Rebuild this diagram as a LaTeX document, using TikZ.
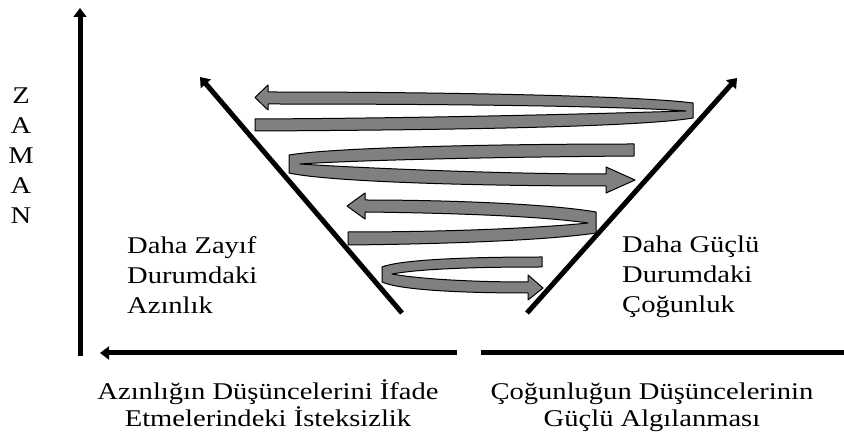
\documentclass[tikz,border=0pt]{standalone}
\usepackage{fontspec}
\setmainfont{Liberation Serif}[FakeStretch=1.19]
\usepackage{tikz}
\usetikzlibrary{arrows.meta}
\definecolor{bandgray}{RGB}{128,128,128}

\begin{document}
\begin{tikzpicture}[
    x=1pt, y=-1pt,
    every node/.style={inner sep=0pt, font=\fontsize{24}{30}\selectfont},
    axisline/.style={line width=5pt, -{Triangle[length=9pt,width=13pt]}},
    ribbon/.style={draw=black, fill=bandgray, line width=1pt, line join=round},
    sidetext/.style={anchor=north west, align=left},
    captext/.style={anchor=base, align=center, font=\fontsize{24}{28}\selectfont}
]
\useasboundingbox (0,0) rectangle (844,438);

\coordinate (origin) at (80,356);
\coordinate (timetop) at (80,8);
\coordinate (leftstart) at (457,353);
\coordinate (leftend) at (100,353);
\coordinate (rightstart) at (481,353);
\coordinate (rightend) at (844,353);
\coordinate (lfoot) at (402,313);
\coordinate (ltip) at (200,77);
\coordinate (rfoot) at (527,313);
\coordinate (rtip) at (737,78);

\draw[ribbon] (255,131) .. controls (450,130) and (640,127) .. (693,118) -- (693,103)
    .. controls (640,96) and (450,92) .. (268,92) -- (268,85) -- (255,97.5) -- (268,110) -- (268,104)
    .. controls (450,104) and (620,106) .. (686,111)
    .. controls (620,113) and (450,118) .. (255,119) -- cycle;
\draw[ribbon] (634,144) -- (634,156)
    .. controls (500,157) and (360,160) .. (300,164)
    .. controls (360,168) and (500,174) .. (606,174) -- (606,167) -- (635,180) -- (606,193) -- (606,186)
    .. controls (480,186) and (330,182) .. (289,173) -- (289,155)
    .. controls (330,148) and (480,144) .. cycle;
\draw[ribbon] (348,245) .. controls (450,244) and (550,240) .. (596,233) -- (596,212)
    .. controls (550,204) and (450,200) .. (365,200) -- (365,193) -- (347,206) -- (365,219) -- (365,212)
    .. controls (450,213) and (540,216) .. (588,223)
    .. controls (540,228) and (450,232) .. (348,232) -- cycle;
\draw[ribbon] (542,257) -- (542,267)
    .. controls (470,267) and (420,269) .. (392,274)
    .. controls (420,279) and (470,282) .. (528,282) -- (528,275) -- (543,288) -- (528,300) -- (528,293)
    .. controls (460,293) and (400,290) .. (382,282) -- (382,267)
    .. controls (400,260) and (460,257) .. cycle;

\draw[axisline] (origin) -- (timetop);
\draw[axisline] (leftstart) -- (leftend);
\draw[line width=5pt] (rightstart) -- (rightend);
\draw[axisline] (lfoot) -- (ltip);
\draw[axisline] (rfoot) -- (rtip);

\node[anchor=north, align=center] (zaman) at (21,88) {Z\\A\\M\\A\\N};
\node[sidetext] (weak) at (127,236) {Daha Zayıf\\Durumdaki\\Azınlık};
\node[sidetext] (strong) at (622,236) {Daha Güçlü\\Durumdaki\\Çoğunluk};
\node[captext] (leftcap) at (268,427) {Azınlığın Düşüncelerini İfade\\Etmelerindeki İsteksizlik};
\node[captext] (rightcap) at (652,427) {Çoğunluğun Düşüncelerinin\\Güçlü Algılanması};
\end{tikzpicture}
\end{document}
